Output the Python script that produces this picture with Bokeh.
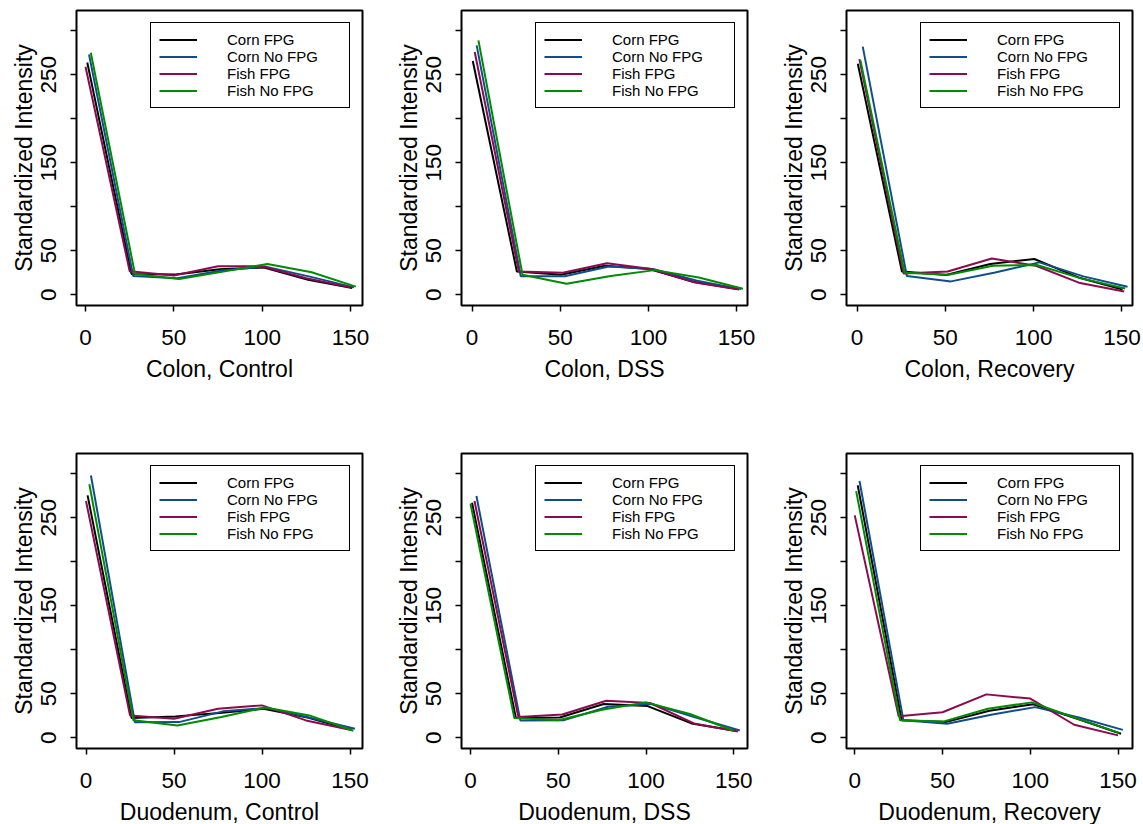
from bokeh.plotting import figure
from bokeh.layouts import column, row
from bokeh.models import FixedTicker, Range1d
from bokeh.embed import file_html
from bokeh.resources import INLINE

# ---------------- data ----------------
positions = [0, 25, 50, 75, 100, 125, 150]
series_names = ["Corn FPG", "Corn No FPG", "Fish FPG", "Fish No FPG"]
series_colors = ["#000000", "#104E8B", "#8B0A50", "#008B00"]
panel_titles = ["Colon, Control", "Colon, DSS", "Colon, Recovery",
                "Duodenum, Control", "Duodenum, DSS", "Duodenum, Recovery"]

# small horizontal jitter of each series, per panel
jitter = [
    [1.0, 2.0, 0.0, 3.0],
    [0.4, 2.6, 1.5, 3.6],
    [0.4, 3.2, 1.3, 1.9],
    [0.9, 2.8, 0.0, 1.9],
    [0.9, 3.4, 2.3, 0.0],
    [1.7, 2.7, 0.0, 0.8],
]

colon_control = [
    [264.0, 23.7, 23.0, 29.0, 31.0, 17.0, 7.6],
    [273.0, 21.4, 18.7, 27.5, 32.0, 20.6, 8.4],
    [259.0, 26.7, 21.8, 32.4, 32.4, 18.7, 8.4],
    [275.0, 23.7, 18.0, 26.3, 35.0, 25.6, 9.2],
]
colon_dss = [
    [265.6, 26.5, 22.8, 33.0, 29.2, 14.8, 6.4],
    [283.4, 21.0, 21.0, 32.2, 29.2, 16.0, 6.4],
    [275.8, 26.5, 25.0, 35.7, 29.2, 14.0, 6.0],
    [289.0, 22.8, 12.5, 21.2, 28.0, 19.7, 6.8],
]
colon_recovery = [
    [262.5, 26.5, 22.4, 35.0, 40.6, 19.7, 6.0],
    [282.0, 21.2, 15.2, 25.4, 36.8, 20.9, 9.1],
    [267.8, 24.3, 26.5, 41.3, 33.0, 13.3, 3.8],
    [266.3, 25.0, 22.8, 33.0, 33.8, 18.6, 7.2],
]
duodenum_control = [
    [275.4, 22.4, 24.3, 28.0, 33.0, 23.0, 9.0],
    [298.0, 17.5, 17.8, 30.0, 33.8, 22.4, 10.2],
    [269.0, 25.4, 21.6, 33.0, 36.8, 19.7, 9.0],
    [288.0, 20.0, 14.0, 23.5, 34.5, 25.4, 8.0],
]
duodenum_dss = [
    [267.0, 22.4, 23.0, 38.3, 36.0, 16.3, 8.0],
    [274.7, 19.7, 20.0, 35.3, 38.3, 23.0, 8.3],
    [269.0, 23.5, 26.5, 42.0, 39.5, 16.3, 7.2],
    [266.0, 22.4, 20.0, 31.9, 40.2, 27.0, 8.0],
]
duodenum_recovery = [
    [286.8, 20.0, 17.8, 30.7, 38.0, 21.6, 4.5],
    [291.7, 20.0, 16.0, 26.2, 34.8, 23.0, 9.0],
    [252.7, 24.5, 29.0, 49.3, 44.5, 14.8, 2.7],
    [280.3, 19.8, 18.6, 33.0, 40.2, 22.4, 5.3],
]
panel_data = [colon_control, colon_dss, colon_recovery,
              duodenum_control, duodenum_dss, duodenum_recovery]

x_ticks = [0, 50, 100, 150]
y_ticks = [0, 50, 100, 150, 200, 250, 300]
y_tick_labels = {0: "0", 50: "50", 100: "", 150: "150", 200: "", 250: "250", 300: ""}

# -------------- layout / style --------------
FONT = "Liberation Sans"
x_limits = [(-5.1, 156.8), (-6.0, 156.2), (-6.0, 156.0),
            (-5.4, 157.1), (-5.1, 157.8), (-4.7, 158.2)]
y_limits = (-12.2, 323.0)


def make_panel(i):
    col = i % 3
    top = i < 3
    p = figure(
        frame_width=286, frame_height=295,
        x_range=Range1d(*x_limits[i]), y_range=Range1d(*y_limits),
        output_backend="svg", toolbar_location=None,
        min_border_left=76, min_border_right=(11 if col == 2 else 23),
        min_border_top=10, min_border_bottom=(138 if top else 76),
        background_fill_color="white", border_fill_color="white",
    )
    data = panel_data[i]
    for s, name in enumerate(series_names):
        xs = [x + jitter[i][s] for x in positions]
        p.line(xs, data[s], line_color=series_colors[s], line_width=2,
               legend_label=name)

    p.grid.visible = False
    p.outline_line_color = "black"
    p.outline_line_width = 2
    p.outline_line_alpha = 1

    for ax in (p.xaxis[0], p.yaxis[0]):
        ax.axis_line_color = None
        ax.minor_tick_line_color = None
        ax.major_tick_line_color = "black"
        ax.major_tick_line_width = 1.5
        ax.major_tick_out = 6
        ax.major_tick_in = 0
        ax.major_label_text_font = FONT
        ax.major_label_text_font_size = "22.5px"
        ax.major_label_text_color = "black"
        ax.axis_label_text_font = FONT
        ax.axis_label_text_font_size = "23px"
        ax.axis_label_text_font_style = "normal"
        ax.axis_label_text_color = "black"

    p.xaxis.ticker = FixedTicker(ticks=x_ticks)
    p.xaxis.major_label_standoff = 18
    p.xaxis.axis_label = panel_titles[i]
    p.xaxis.axis_label_standoff = 8

    p.yaxis.ticker = FixedTicker(ticks=y_ticks)
    p.yaxis.major_label_overrides = {k: v for k, v in y_tick_labels.items()}
    p.yaxis.major_label_orientation = "vertical"
    p.yaxis.major_label_standoff = 14
    p.yaxis.axis_label = "Standardized Intensity"
    p.yaxis.axis_label_standoff = 2

    lg = p.legend[0]
    lg.location = "top_right"
    lg.margin = 12
    lg.padding = 8
    lg.spacing = 0
    lg.glyph_width = 38
    lg.glyph_height = 17
    lg.label_height = 17
    lg.label_standoff = 30
    lg.label_width = 114
    lg.label_text_font = FONT
    lg.label_text_font_size = "15px"
    lg.label_text_color = "black"
    lg.border_line_color = "black"
    lg.border_line_width = 1.8
    lg.border_line_alpha = 1
    lg.background_fill_color = "white"
    lg.background_fill_alpha = 1
    return p


panels = [make_panel(i) for i in range(6)]
layout = column(row(*panels[:3]), row(*panels[3:]))

open("out.html", "w").write(file_html(layout, INLINE))
